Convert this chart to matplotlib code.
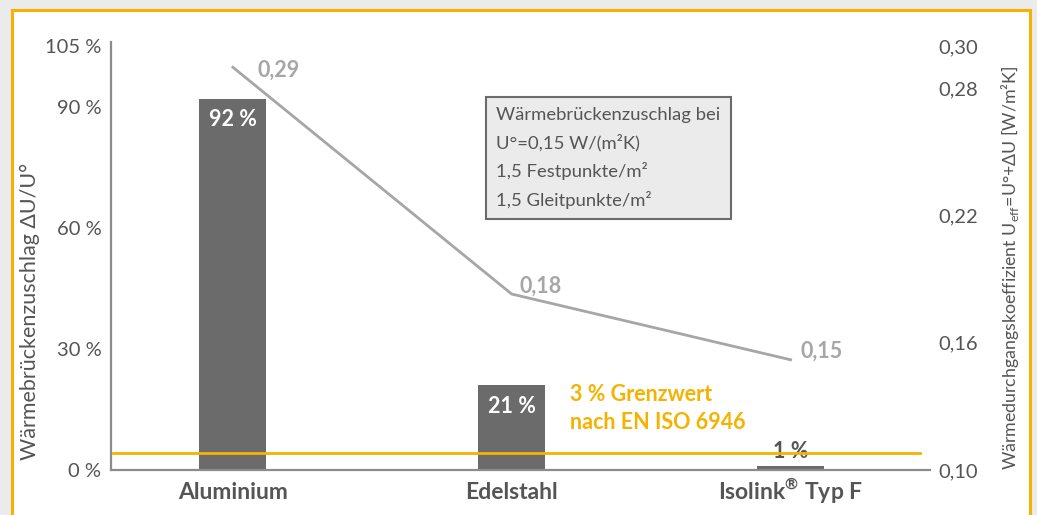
import matplotlib.pyplot as plt
from matplotlib.patches import Rectangle

# --- data ---
categories = ["Aluminium", "Edelstahl", r"Isolink$^{\mathbf{®}}$ Typ F"]
bar_values = [92, 21, 1]                 # Wärmebrückenzuschlag in %
bar_labels = ["92 %", "21 %", "1 %"]
u_values = [0.29, 0.183, 0.152]          # U_eff in W/(m²K)
u_labels = ["0,29", "0,18", "0,15"]
limit_value = 4.2                        # drawn position of the 3 % line
left_ticks = [0, 30, 60, 90, 105]
left_ticklabels = ["0 %", "30 %", "60 %", "90 %", "105 %"]
right_ticks = [0.10, 0.16, 0.22, 0.28, 0.30]
right_ticklabels = ["0,10", "0,16", "0,22", "0,28", "0,30"]
box_lines = ["Wärmebrückenzuschlag bei", "U°=0,15 W/(m²K)",
             "1,5 Festpunkte/m²", "1,5 Gleitpunkte/m²"]

# --- colours ---
BAR = "#6b6b6b"
LINE = "#a6a6a6"
ORANGE = "#f5b200"
TEXT = "#555555"
SPINE = "#8c8c8c"

plt.rcParams["font.family"] = ["Lato", "DejaVu Sans"]
plt.rcParams["mathtext.fontset"] = "custom"
plt.rcParams["mathtext.rm"] = "Lato"
plt.rcParams["mathtext.bf"] = "Lato:bold"

W, H = 1037, 515
fig = plt.figure(figsize=(W / 100, H / 100), dpi=100)
fig.patch.set_facecolor("#ebebeb")

# white panel with orange frame (behind the axes)
frame = Rectangle((12 / W, -0.05), 1018 / W, 1 - 10 / H + 0.05,
                  transform=fig.transFigure, facecolor="white",
                  edgecolor=ORANGE, linewidth=2.2, zorder=-10)
fig.add_artist(frame)

ax = fig.add_axes([111 / W, 45 / H, (930 - 111) / W, (470 - 42) / H])
ax.set_facecolor("none")
x = list(range(len(categories)))

ax.bar(x, bar_values, width=0.24, color=BAR, zorder=2)
ax.set_xlim(-0.437, 2.5)
ax.set_ylim(0, 106)
ax.set_yticks(left_ticks)
ax.set_yticklabels(left_ticklabels)
ax.set_xticks(x)
ax.set_xticklabels(categories, fontweight="bold", fontsize=16.5, color=TEXT)
for lbl in ax.get_xticklabels():
    lbl.set_verticalalignment("baseline")
ax.tick_params(axis="y", length=0, pad=7, labelsize=14.5, labelcolor=TEXT)
ax.tick_params(axis="x", length=0, pad=21)
for s in ["top", "right"]:
    ax.spines[s].set_visible(False)
for s in ["left", "bottom"]:
    ax.spines[s].set_color(SPINE)
    ax.spines[s].set_linewidth(1.6)

# bar value labels
for xi, v, lab in zip(x, bar_values, bar_labels):
    if v > 10:
        ax.annotate(lab, (xi, v), xytext=(0, -21), textcoords="offset pixels",
                    ha="center", va="center", color="white",
                    fontweight="bold", fontsize=15.5, zorder=3)
    else:
        ax.annotate(lab, (xi, v), xytext=(0, 14), textcoords="offset pixels",
                    ha="center", va="center", color=TEXT,
                    fontweight="bold", fontsize=15.5, zorder=3)

# 3 % limit line
ax.axhline(limit_value, xmin=0.003, xmax=0.988, color=ORANGE, lw=2, zorder=4)
ax.text(1.21, 15.2, "3 % Grenzwert\nnach EN ISO 6946", color=ORANGE,
        fontweight="bold", fontsize=15.5, ha="left", va="center",
        linespacing=1.4)

# info box
ax.text(0.945, 77.2, "\n".join(box_lines), transform=ax.transData,
        ha="left", va="center", fontsize=13.3, color=TEXT, linespacing=1.72,
        bbox=dict(boxstyle="square,pad=0.55", facecolor="#ebebeb",
                  edgecolor="#6b6b6b", linewidth=1.5))

# U-value line on secondary axis
ax2 = ax.twinx()
ax2.set_ylim(0.10, 0.10 + 0.20 * 106 / 105)
ax2.plot(x, u_values, color=LINE, lw=2, zorder=3)
ax2.set_yticks(right_ticks)
ax2.set_yticklabels(right_ticklabels)
ax2.tick_params(axis="y", length=0, pad=6, labelsize=14.5, labelcolor=TEXT)
for s in ax2.spines.values():
    s.set_visible(False)
offsets = [(25, -3), (8, 8), (10, 9)]
for xi, v, lab, off in zip(x, u_values, u_labels, offsets):
    ax2.annotate(lab, (xi, v), xytext=off, textcoords="offset pixels",
                 ha="left", va="center", color=LINE, fontweight="bold",
                 fontsize=15.5)

# axis titles
fig.text(30 / W, 1 - 311 / H, "Wärmebrückenzuschlag ΔU/U°", rotation=90,
         ha="center", va="center", fontsize=15.5, color=TEXT)
fig.text(1010 / W, 1 - 268 / H,
         r"Wärmedurchgangskoeffizient U$_{\mathrm{eff}}$=U°+ΔU [W/m²K]",
         rotation=90, ha="center", va="center", fontsize=12.8, color=TEXT)

fig.savefig("out.png", dpi=100, facecolor=fig.get_facecolor())
